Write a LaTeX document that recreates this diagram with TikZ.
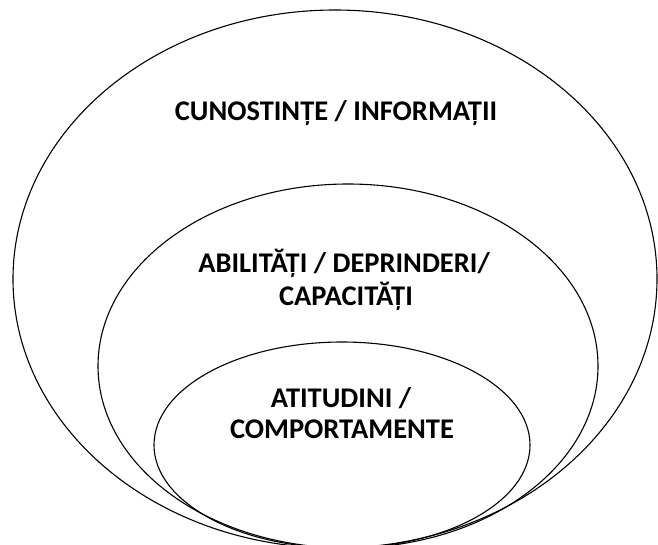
\documentclass[tikz,border=0pt]{standalone}
\usepackage{fontspec}
\setmainfont{Carlito}
\usepackage{tikz}
\tikzset{
    shell/.style={draw=black,line width=1.1pt},
    label/.style={anchor=base,inner sep=0pt,font=\bfseries\fontsize{28.5}{34}\selectfont}
}

\begin{document}
\begin{tikzpicture}[x=1pt,y=-1pt]
            \useasboundingbox (0,0) rectangle (658,544);
            \clip (0,0) rectangle (658,544);
            % three nested shells, all touching at the bottom
            \draw[shell] (335,279) ellipse [x radius=322, y radius=269];
            \draw[shell] (348,366) ellipse [x radius=250, y radius=182];
            \draw[shell] (342,445) ellipse [x radius=188, y radius=103];
            % labels, one node per line
            \node[label] (K) at (336,120) {CUNOSTINȚE / INFORMAȚII};
            \node[label] (A1) at (344,272) {ABILITĂȚI / DEPRINDERI/};
            \node[label] (A2) at (346,305) {CAPACITĂȚI};
            \node[label] (T1) at (341,407) {ATITUDINI /};
            \node[label] (T2) at (342,438) {COMPORTAMENTE};
        \end{tikzpicture}
\end{document}
